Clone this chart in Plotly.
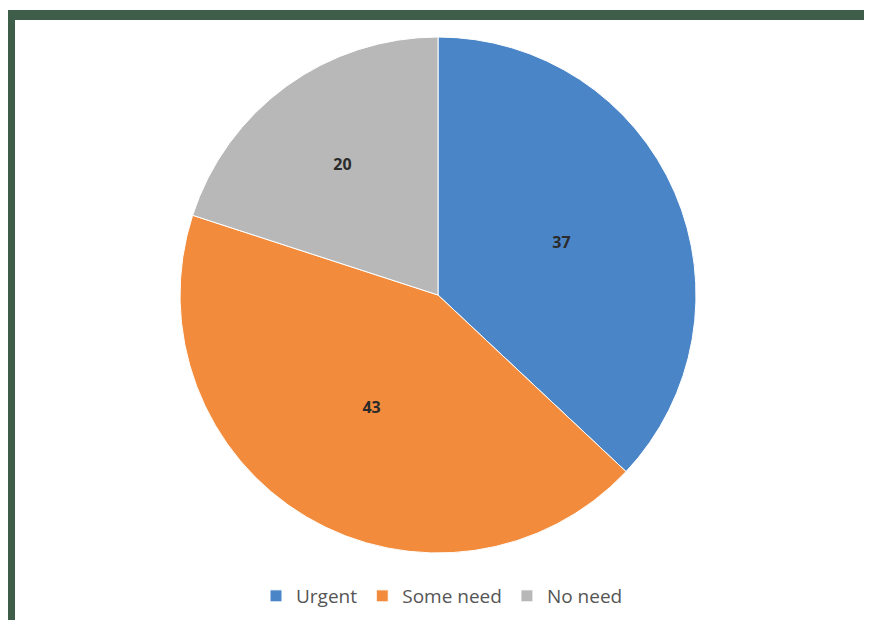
import plotly.graph_objects as go

categories = ["Urgent", "Some need", "No need"]
values = [37, 43, 20]
colors = ["#4a85c8", "#f28c3c", "#b8b8b8"]

W, H = 872, 620
OFF = 8  # page body margin offset

def px(x):
    return (x - OFF) / W

def py(y):
    return 1 - (y - OFF) / H

fig = go.Figure(go.Pie(
    labels=categories,
    values=values,
    sort=False,
    direction="clockwise",
    rotation=0,
    marker=dict(colors=colors, line=dict(color="white", width=1)),
    textinfo="value",
    textposition="inside",
    insidetextorientation="horizontal",
    textfont=dict(family="Open Sans, Arial", size=16, color="#2b2b2b", weight="bold"),
    domain=dict(x=[px(180), px(696)], y=[py(553), py(37)]),
    hoverinfo="label+value",
))

border = "#3f5e4a"
fig.update_layout(
    width=W, height=H,
    margin=dict(l=0, r=0, t=0, b=0),
    paper_bgcolor="white",
    showlegend=True,
    legend=dict(
        orientation="h",
        x=px(442), xanchor="center",
        y=py(596), yanchor="middle",
        font=dict(family="Open Sans, Arial", size=19, color="#555555", weight=500),
        itemwidth=30,
        traceorder="normal",
    ),
    shapes=[
        dict(type="rect", xref="paper", yref="paper", x0=px(7), x1=1, y0=py(20), y1=py(10),
             fillcolor=border, line=dict(width=0), layer="above"),
        dict(type="rect", xref="paper", yref="paper", x0=px(7), x1=px(15), y0=0, y1=py(10),
             fillcolor=border, line=dict(width=0), layer="above"),
    ],
)

fig.write_html("out.html")
